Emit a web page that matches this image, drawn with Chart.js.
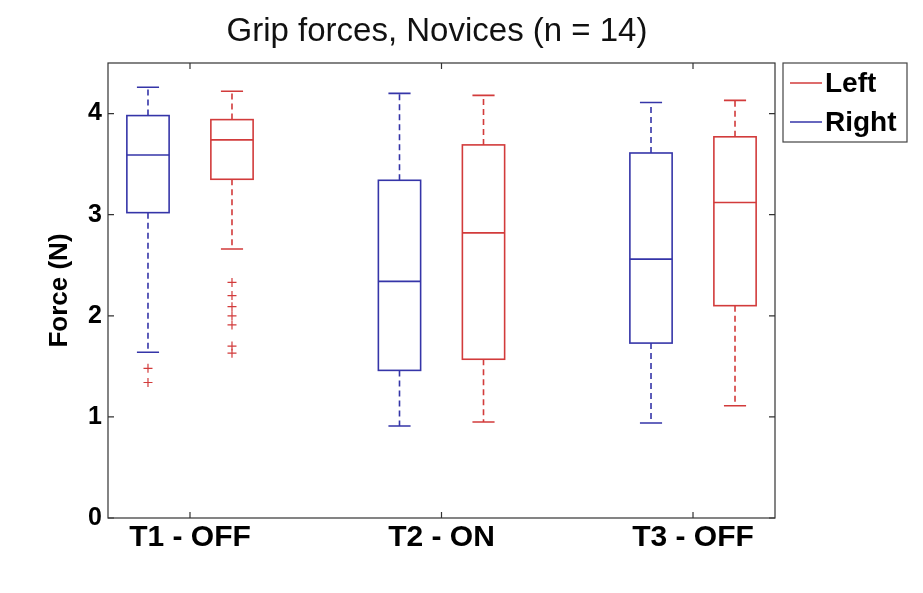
<!DOCTYPE html>
<html>
<head>
<meta charset="utf-8">
<script src="https://cdn.jsdelivr.net/npm/chart.js@4.4.1/dist/chart.umd.min.js"></script>
<style>
  body { margin: 0; background: #fff; }
  #wrap { width: 923px; height: 593px; position: relative; }
</style>
</head>
<body>
<div id="wrap"><canvas id="chart"></canvas></div>
<script>
var categories = ['T1 - OFF', 'T2 - ON', 'T3 - OFF'];

// Right hand (blue), drawn left of each tick
var rightLow = [1.64, 0.91, 0.94];
var rightQ1 = [3.02, 1.46, 1.73];
var rightMed = [3.59, 2.34, 2.56];
var rightQ3 = [3.98, 3.34, 3.61];
var rightHigh = [4.26, 4.20, 4.11];
var rightOutliers = [[1.48, 1.34], [], []];

// Left hand (red), drawn right of each tick
var leftLow = [2.66, 0.95, 1.11];
var leftQ1 = [3.35, 1.57, 2.10];
var leftMed = [3.74, 2.82, 3.12];
var leftQ3 = [3.94, 3.69, 3.77];
var leftHigh = [4.22, 4.18, 4.13];
var leftOutliers = [[2.33, 2.20, 2.09, 2.00, 1.91, 1.70, 1.63], [], []];

var yTicks = [0, 1, 2, 3, 4];

var blue = '#3535a8';
var red = '#d23b3b';
var font = "'Liberation Sans', Arial, sans-serif";
var shift = 0.167;   // box offset from category tick
var half = 0.084;    // box half width
var capHalf = 0.044; // whisker cap half width

var series = [
    { label: 'Right', color: blue, off: -shift, lo: rightLow, q1: rightQ1, med: rightMed, q3: rightQ3, hi: rightHigh, out: rightOutliers },
    { label: 'Left', color: red, off: shift, lo: leftLow, q1: leftQ1, med: leftMed, q3: leftQ3, hi: leftHigh, out: leftOutliers }
];

function outlierPoints(s) {
    var pts = [];
    s.out.forEach(function (list, i) {
        list.forEach(function (v) { pts.push({ x: i + 1 + s.off, y: v }); });
    });
    return pts;
}

var boxPlugin = {
    id: 'boxPlugin',
    beforeDatasetsDraw: function (chart) {
        var ctx = chart.ctx;
        var xs = chart.scales.x, ys = chart.scales.y;
        ctx.save();
        series.forEach(function (s) {
            for (var i = 0; i < categories.length; i++) {
                var cx = xs.getPixelForValue(i + 1 + s.off);
                var x0 = xs.getPixelForValue(i + 1 + s.off - half);
                var x1 = xs.getPixelForValue(i + 1 + s.off + half);
                var c0 = xs.getPixelForValue(i + 1 + s.off - capHalf);
                var c1 = xs.getPixelForValue(i + 1 + s.off + capHalf);
                var yLo = ys.getPixelForValue(s.lo[i]);
                var yQ1 = ys.getPixelForValue(s.q1[i]);
                var yMed = ys.getPixelForValue(s.med[i]);
                var yQ3 = ys.getPixelForValue(s.q3[i]);
                var yHi = ys.getPixelForValue(s.hi[i]);
                ctx.strokeStyle = s.color;
                ctx.lineWidth = 1.6;
                // whiskers
                ctx.setLineDash([6, 4]);
                ctx.beginPath();
                ctx.moveTo(cx, yQ3); ctx.lineTo(cx, yHi);
                ctx.moveTo(cx, yQ1); ctx.lineTo(cx, yLo);
                ctx.stroke();
                ctx.setLineDash([]);
                // caps
                ctx.beginPath();
                ctx.moveTo(c0, yHi); ctx.lineTo(c1, yHi);
                ctx.moveTo(c0, yLo); ctx.lineTo(c1, yLo);
                ctx.stroke();
                // box and median
                ctx.strokeRect(x0, yQ3, x1 - x0, yQ1 - yQ3);
                ctx.beginPath();
                ctx.moveTo(x0, yMed); ctx.lineTo(x1, yMed);
                ctx.stroke();
            }
        });
        ctx.restore();
    },
    afterDraw: function (chart) {
        var ctx = chart.ctx;
        var a = chart.chartArea;
        var xs = chart.scales.x, ys = chart.scales.y;
        ctx.save();
        // frame
        ctx.strokeStyle = '#333';
        ctx.lineWidth = 1.2;
        ctx.strokeRect(a.left, a.top, a.right - a.left, a.bottom - a.top);
        ctx.beginPath();
        yTicks.forEach(function (v) {
            var y = ys.getPixelForValue(v);
            ctx.moveTo(a.left, y); ctx.lineTo(a.left + 6, y);
            ctx.moveTo(a.right, y); ctx.lineTo(a.right - 6, y);
        });
        categories.forEach(function (c, i) {
            var x = xs.getPixelForValue(i + 1);
            ctx.moveTo(x, a.bottom); ctx.lineTo(x, a.bottom - 6);
            ctx.moveTo(x, a.top); ctx.lineTo(x, a.top + 6);
        });
        ctx.stroke();

        // title
        ctx.fillStyle = '#111';
        ctx.font = '33px ' + font;
        ctx.textAlign = 'center';
        ctx.textBaseline = 'middle';
        ctx.fillText('Grip forces, Novices (n = 14)', 437, 32);

        // legend
        var lx = 783, ly = 63, lw = 124, lh = 79;
        ctx.fillStyle = '#fff';
        ctx.fillRect(lx, ly, lw, lh);
        ctx.strokeStyle = '#444';
        ctx.lineWidth = 1.2;
        ctx.strokeRect(lx, ly, lw, lh);
        var rows = [{ label: 'Left', color: red, y: 83 }, { label: 'Right', color: blue, y: 122 }];
        ctx.font = 'bold 28px ' + font;
        ctx.textAlign = 'left';
        rows.forEach(function (r) {
            ctx.strokeStyle = r.color;
            ctx.lineWidth = 1.5;
            ctx.beginPath();
            ctx.moveTo(790, r.y); ctx.lineTo(822, r.y);
            ctx.stroke();
            ctx.fillStyle = '#000';
            ctx.fillText(r.label, 825, r.y + 1);
        });
        ctx.restore();
    }
};

new Chart(document.getElementById('chart'), {
    type: 'scatter',
    data: {
        datasets: series.map(function (s) {
            return {
                label: s.label,
                data: outlierPoints(s),
                pointStyle: 'cross',
                radius: 4.5,
                borderColor: red,
                borderWidth: 1.2,
                backgroundColor: red
            };
        })
    },
    options: {
        responsive: true,
        maintainAspectRatio: false,
        animation: false,
        layout: { padding: { top: 63, right: 148, left: 0, bottom: 0 } },
        plugins: {
            legend: { display: false },
            title: { display: false },
            tooltip: { enabled: false }
        },
        scales: {
            x: {
                type: 'linear',
                min: 0.674,
                max: 3.326,
                grid: { display: false, drawTicks: false },
                border: { display: false },
                afterBuildTicks: function (s) {
                    s.ticks = categories.map(function (c, i) { return { value: i + 1 }; });
                },
                afterFit: function (s) { s.height = 75; },
                ticks: {
                    padding: 2,
                    color: '#000',
                    font: { family: font, size: 30, weight: 'bold' },
                    callback: function (v) { return categories[v - 1]; }
                }
            },
            y: {
                min: 0,
                max: 4.5,
                grid: { display: false, drawTicks: false },
                border: { display: false },
                afterBuildTicks: function (s) {
                    s.ticks = yTicks.map(function (v) { return { value: v }; });
                },
                afterFit: function (s) { s.width = 108; },
                ticks: {
                    padding: 6,
                    color: '#000',
                    font: { family: font, size: 25, weight: 'bold' }
                },
                title: {
                    display: true,
                    text: 'Force (N)',
                    color: '#000',
                    font: { family: font, size: 26, weight: 'bold' },
                    padding: { top: 44, bottom: 0 }
                }
            }
        }
    },
    plugins: [boxPlugin]
});
</script>
</body>
</html>
